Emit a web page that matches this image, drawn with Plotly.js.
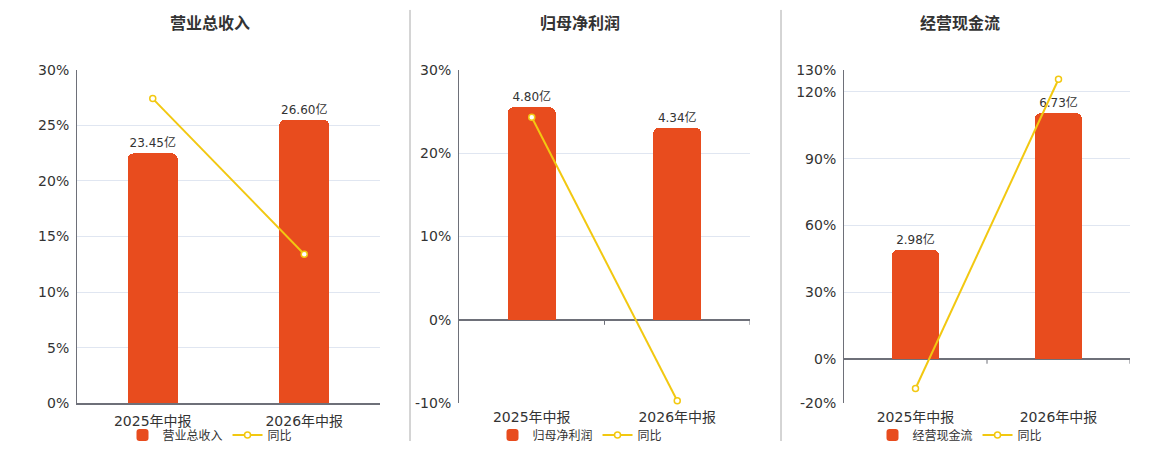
<!DOCTYPE html>
<html>
<head>
<meta charset="utf-8">
<script src="https://cdn.plot.ly/plotly-3.0.1.min.js"></script>
<style>
  html, body { margin: 0; padding: 0; background: #fff; }
  #chart { width: 1160px; height: 450px; }
</style>
</head>
<body>
<div id="chart"></div>
<script>
// report periods
const categories = ['2025年中报', '2026年中报'];

// amounts (亿) and year-on-year growth (%)
const revenue = [23.45, 26.60];
const revenueYoY = [27.4, 13.4];
const profit = [4.80, 4.34];
const profitYoY = [24.3, -9.7];
const cashflow = [2.98, 6.73];
const cashflowYoY = [-13.4, 125.7];

// tick values of the percent axes
const revenueTicks = [0, 5, 10, 15, 20, 25, 30];
const profitTicks = [-10, 0, 10, 20, 30];
const cashflowTicks = [-20, 0, 30, 60, 90, 120, 130];

const titles = ['营业总收入', '归母净利润', '经营现金流'];

const BAR = '#e84c1e';
const LINE = '#f2c811';
const AXIS = '#6e7079';
const GRID = '#e0e6f1';
const TEXT = '#333';
const FONT = 'DejaVu Sans, Noto Sans CJK SC, sans-serif';

const panels = [
  { name: titles[0], bars: revenue, yoy: revenueYoY, ticks: revenueTicks, xd: [77, 380], center: 210 },
  { name: titles[1], bars: profit, yoy: profitYoY, ticks: profitTicks, xd: [459, 750], center: 580 },
  { name: titles[2], bars: cashflow, yoy: cashflowYoY, ticks: cashflowTicks, xd: [844, 1130], center: 960 }
];

const W = 1160, H = 450;
const yDomain = [(H - 405) / H, (H - 70) / H];

const data = [];
const layout = {
  width: W, height: H,
  margin: { l: 0, r: 0, t: 0, b: 0 },
  paper_bgcolor: '#fff', plot_bgcolor: 'rgba(0,0,0,0)',
  font: { family: FONT, color: TEXT },
  hovermode: false,
  bargap: 0,
  annotations: [],
  shapes: []
};

panels.forEach((p, i) => {
  const n = i + 1;
  const xs = n === 1 ? '' : String(n);
  const barY = n === 1 ? '' : String(2 * n - 1);
  const pctY = String(2 * n);
  const xName = 'x' + xs, barName = 'y' + barY, pctName = 'y' + pctY;
  const legendName = n === 1 ? 'legend' : 'legend' + n;

  const pMin = Math.min(...p.ticks), pMax = Math.max(...p.ticks);
  // tallest bar reaches 85% of the top of the percent axis
  const k = Math.max(...p.bars) / (0.85 * pMax);

  data.push({
    type: 'bar', name: p.name, x: categories, y: p.bars,
    xaxis: xName, yaxis: barName, legend: legendName,
    width: 0.33,
    marker: { color: BAR, cornerradius: 6 },
    text: p.bars.map(v => v.toFixed(2) + '亿'),
    textposition: 'outside', cliponaxis: false,
    textfont: { size: 12, color: TEXT, family: FONT }
  });
  data.push({
    type: 'scatter', mode: 'lines+markers', name: '同比', x: categories, y: p.yoy,
    xaxis: xName, yaxis: pctName, legend: legendName,
    line: { color: LINE, width: 2 },
    marker: { symbol: 'circle', size: 6, color: '#fff', line: { color: LINE, width: 1.5 } },
    cliponaxis: false
  });

  const dom = [p.xd[0] / W, p.xd[1] / W];
  layout['xaxis' + xs] = {
    domain: dom, anchor: pctName, type: 'category',
    range: [-0.5, 1.5], showline: n === 1, linecolor: AXIS, linewidth: 2,
    ticks: '', showgrid: false, zeroline: false, ticklabelstandoff: 4,
    tickfont: { size: 14, color: TEXT, family: FONT }
  };
  layout['yaxis' + barY] = {
    domain: yDomain, anchor: xName, visible: false,
    range: [pMin * k, pMax * k], showgrid: false, zeroline: false
  };
  layout['yaxis' + pctY] = {
    domain: yDomain, anchor: xName, overlaying: barName, side: 'left',
    range: [pMin, pMax], tickvals: p.ticks, ticktext: p.ticks.map(t => t + '%'),
    showline: true, linecolor: AXIS, linewidth: 1,
    showgrid: true, gridcolor: GRID, gridwidth: 1,
    zeroline: n !== 1, zerolinecolor: AXIS, zerolinewidth: 2,
    ticks: '', ticklabelstandoff: 4,
    tickfont: { size: 14, color: TEXT, family: FONT }
  };
  layout[legendName] = {
    orientation: 'h', x: p.center / W, xanchor: 'center', y: (H - 437) / H, yanchor: 'middle',
    font: { size: 12, color: TEXT, family: FONT }, bgcolor: 'rgba(0,0,0,0)',
    itemwidth: 30, tracegroupgap: 0
  };
  layout.annotations.push({
    xref: 'paper', yref: 'paper', x: p.center / W, y: (H - 22) / H,
    xanchor: 'center', yanchor: 'middle', showarrow: false,
    text: '<b>' + p.name + '</b>', font: { size: 16, color: TEXT, family: 'Noto Sans CJK SC, sans-serif' }
  });
  // small boundary ticks on the zero line
  [0.5, 1.5].forEach(bx => {
    layout.shapes.push({
      type: 'line', xref: xName, yref: pctName, x0: bx, x1: bx,
      ysizemode: 'pixel', yanchor: 0, y0: 0, y1: -5,
      line: { color: AXIS, width: 1 }
    });
  });
});

// panel separators
[410, 781].forEach(px => {
  layout.shapes.push({
    type: 'line', xref: 'paper', yref: 'paper', x0: px / W, x1: px / W,
    y0: (H - 443) / H, y1: (H - 10) / H, line: { color: '#aaa', width: 1 }
  });
});

Plotly.newPlot('chart', data, layout, { displayModeBar: false, staticPlot: true });
</script>
</body>
</html>
